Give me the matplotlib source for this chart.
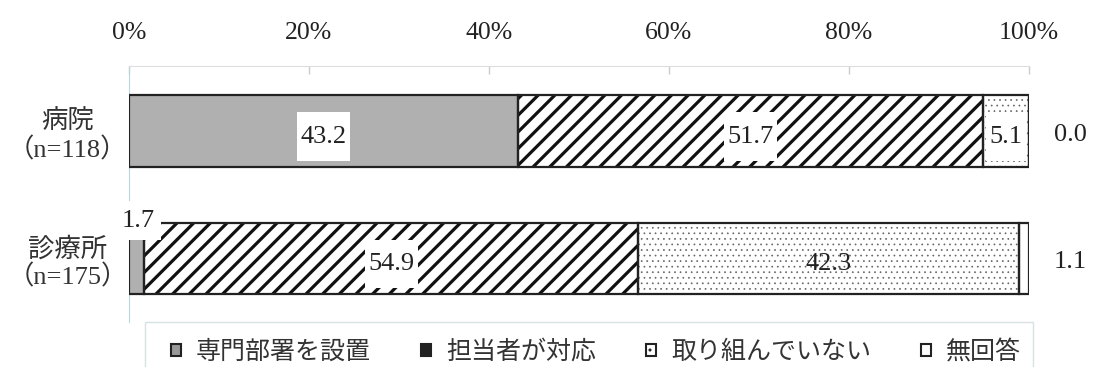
import matplotlib
matplotlib.use("Agg")
import matplotlib.pyplot as plt
import matplotlib.patches as mpatches
import numpy as np

categories = ["病院\n（n=118）", "診療所\n（n=175）"]
series = ["専門部署を設置", "担当者が対応", "取り組んでいない", "無回答"]
senmon = [43.2, 1.7]
tantou = [51.7, 54.9]
torikumi = [5.1, 42.3]
mukaitou = [0.0, 1.1]
xticks = [0, 20, 40, 60, 80, 100]
xticklabels = ["0%", "20%", "40%", "60%", "80%", "100%"]

data = np.array([senmon, tantou, torikumi, mukaitou])

# fill, hatch, hatch colour, hatch width for each series
styles = [
    ("#b0b0b0", None, "#b0b0b0", 1.0),
    ("white", "//", "#111111", 2.3),
    ("white", "...", "#666666", 0.5),
    ("white", None, "white", 1.0),
]

SERIF = ["Liberation Serif", "Noto Sans CJK JP", "DejaVu Serif"]
JP = ["Noto Sans CJK JP", "DejaVu Sans"]
TXT = "#222222"

fig = plt.figure(figsize=(10.94, 3.67), dpi=100)
ax = fig.add_axes([129 / 1094, 1 - 322 / 367, 900 / 1094, 256 / 367])

y = np.arange(len(categories))
h = 0.56
left = np.zeros(len(categories))
for i, (fc, hatch, hc, hlw) in enumerate(styles):
    with plt.rc_context({"hatch.linewidth": hlw}):
        bars = ax.barh(y, data[i], left=left, height=h, color=fc,
                       edgecolor=hc, hatch=hatch, linewidth=0, zorder=2)
    for b in bars:
        if hasattr(b, "set_hatch_linewidth"):
            b.set_hatch_linewidth(hlw)
    ax.barh(y, data[i], left=left, height=h, fill=False,
            edgecolor="#222222", linewidth=1.6, zorder=3)

    for j, v in enumerate(data[i]):
        cx = left[j] + v / 2
        if i == 3:
            ax.annotate(f"{v:.1f}", (100, y[j]), xytext=(30, -3),
                        textcoords="offset points", ha="center", va="center",
                        fontsize=19, family=SERIF, color=TXT)
        elif v < 3:
            ax.annotate(f"{v:.1f}", (cx, y[j]), xytext=(1.5, 27),
                        textcoords="offset points", ha="center", va="center",
                        fontsize=19, family=SERIF, color=TXT, zorder=5,
                        bbox=dict(boxstyle="square,pad=0.2", fc="white",
                                  ec="none", mutation_aspect=1.6))
        else:
            box = None
            if not (i == 2 and v > 10):
                box = dict(boxstyle="square,pad=0.14", fc="white", ec="none",
                           mutation_aspect=3.6)
            ax.annotate(f"{v:.1f}", (cx, y[j]), xytext=(0, -4),
                        textcoords="offset points", ha="center", va="center",
                        fontsize=19, family=SERIF, color=TXT, zorder=5,
                        bbox=box)
    left = left + data[i]

ax.set_xlim(0, 100)
ax.set_ylim(1.5, -0.51)
ax.xaxis.tick_top()
ax.set_xticks(xticks)
ax.set_xticklabels(xticklabels, fontsize=18.5, family=SERIF, color=TXT)
ax.tick_params(axis="x", direction="in", length=6, width=1, color="#cccccc", pad=16)
ax.set_yticks([])
for s in ["right", "bottom"]:
    ax.spines[s].set_visible(False)
ax.spines["top"].set_color("#dddddd")
ax.spines["left"].set_color("#b9d6dc")

for j, lab in enumerate(categories):
    ax.text(-0.068, y[j] + 0.04, lab, transform=ax.get_yaxis_transform(),
            ha="center", va="center", fontsize=19, family=SERIF,
            color="#333333", linespacing=1.15, multialignment="center")

# legend frame (cut by the bottom edge)
fig.patches.append(mpatches.Rectangle((145 / 1094, -0.1), 888 / 1094, 0.1 + 45 / 367,
                                      transform=fig.transFigure, fill=False,
                                      edgecolor="#d8e2e5", linewidth=1))

handles = [
    mpatches.Patch(facecolor="#999999", edgecolor=TXT, linewidth=1.5, label=series[0]),
    mpatches.Patch(facecolor=TXT, edgecolor=TXT, linewidth=1.5, label=series[1]),
    mpatches.Patch(facecolor="white", edgecolor=TXT, linewidth=1.5, hatch="..",
                   label=series[2]),
    mpatches.Patch(facecolor="white", edgecolor=TXT, linewidth=1.5, label=series[3]),
]
fig.legend(handles=handles, loc="center left", bbox_to_anchor=(171 / 1094, 1 - 352 / 367),
           ncol=4, frameon=False, borderpad=0, borderaxespad=0,
           handlelength=0.4, handleheight=0.4, handletextpad=0.6, columnspacing=2.0,
           prop={"family": JP, "size": 18})
for t in fig.legends[0].get_texts():
    t.set_color("#333333")

fig.savefig("out.png", dpi=100)
